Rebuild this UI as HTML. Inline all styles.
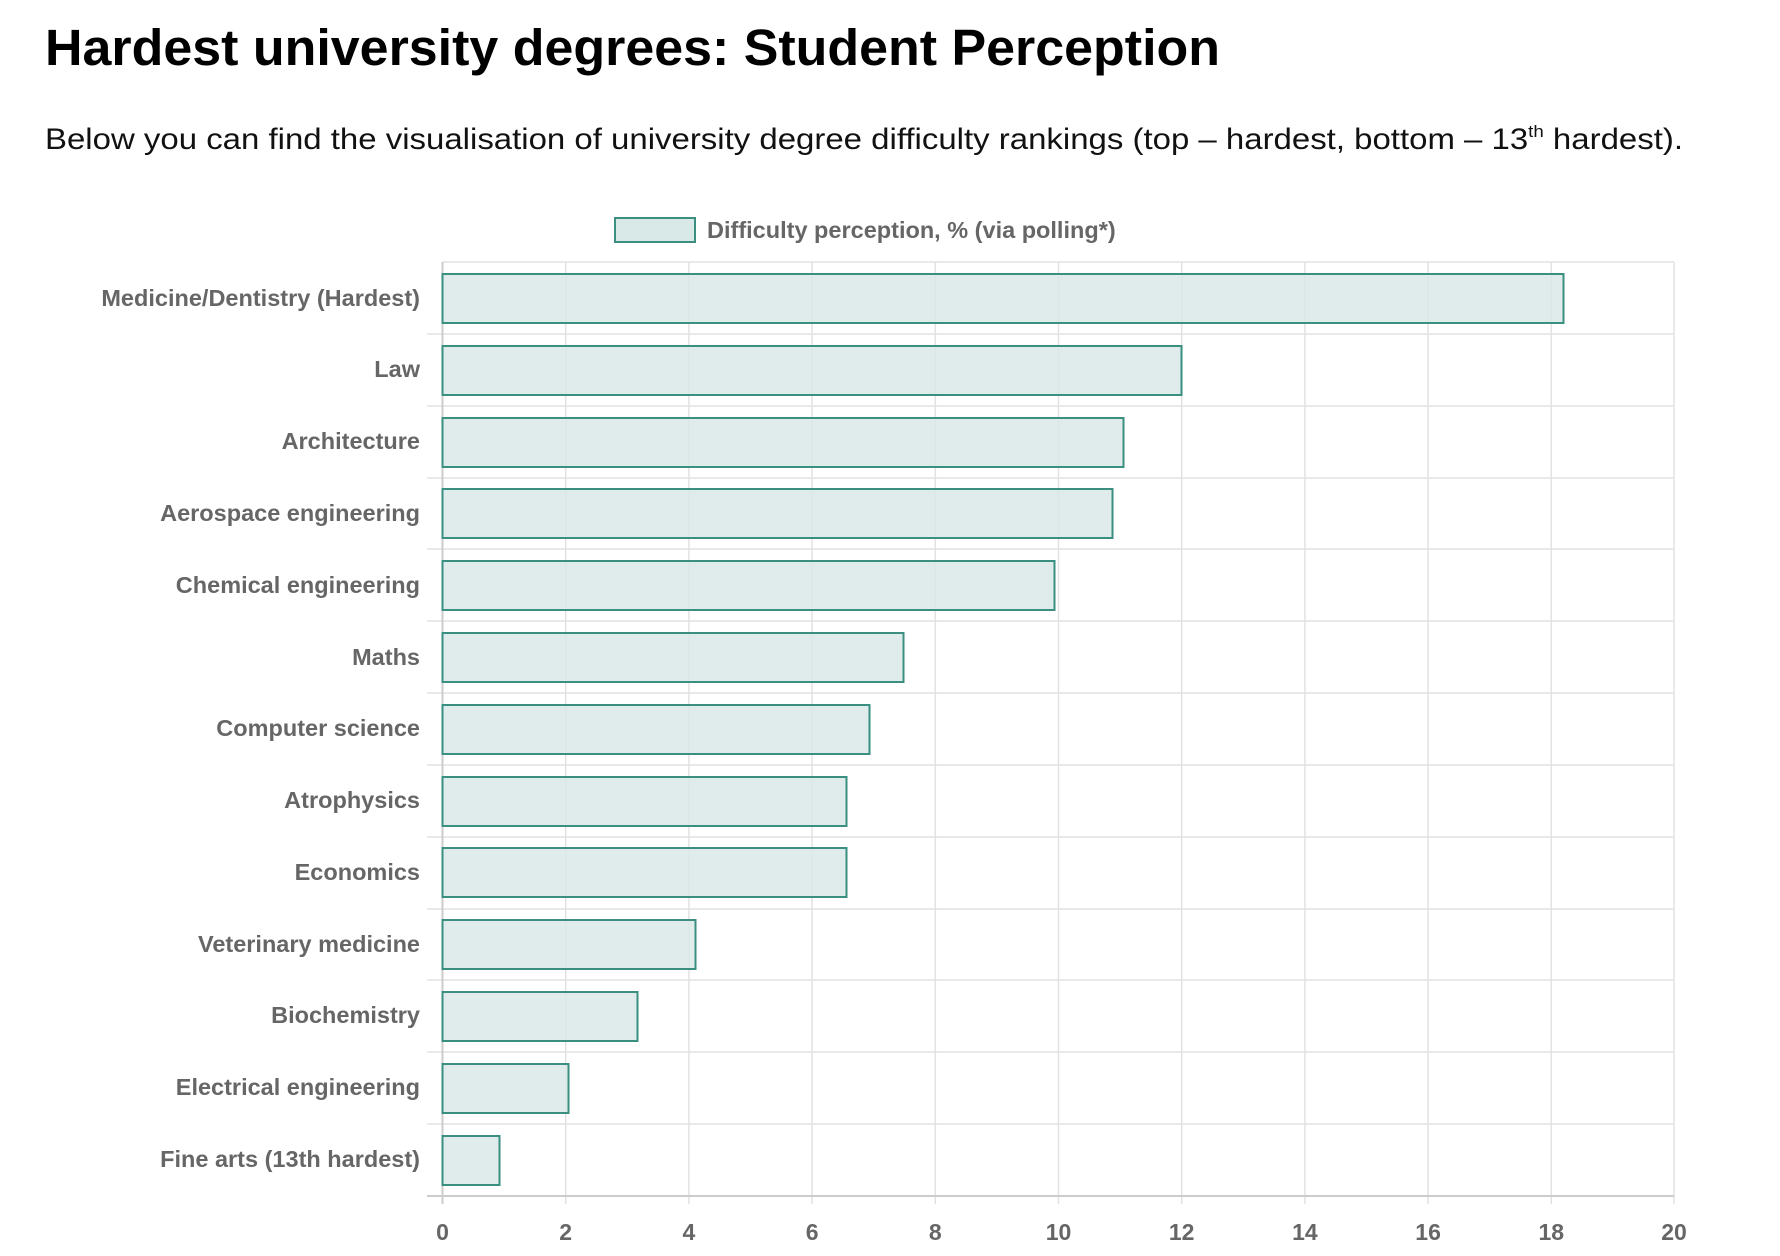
<!DOCTYPE html>
<html><head><meta charset="utf-8"><style>
html,body{margin:0;padding:0;background:#fff;width:1780px;height:1256px;overflow:hidden}
</style></head><body>
<svg width="1780" height="1256" xmlns="http://www.w3.org/2000/svg" font-family="Liberation Sans, sans-serif">
<text x="45" y="65" font-size="51" font-weight="bold" fill="#000" textLength="1175" lengthAdjust="spacingAndGlyphs">Hardest university degrees: Student Perception</text>
<text x="45" y="149" font-size="30" fill="#111" textLength="1638" lengthAdjust="spacingAndGlyphs">Below you can find the visualisation of university degree difficulty rankings (top – hardest, bottom – 13<tspan font-size="17" dy="-12">th</tspan><tspan dy="12"> hardest).</tspan></text>
<rect x="615" y="218" width="80" height="24" fill="#d9e9e7" stroke="#3a8f80" stroke-width="2"/>
<text x="707" y="238" font-size="23.5" font-weight="bold" fill="#666">Difficulty perception, % (via polling*)</text>
<g stroke="#e2e2e2" stroke-width="1.5">
<line x1="442.5" y1="262" x2="1674" y2="262"/>
<line x1="427" y1="334" x2="1674" y2="334"/>
<line x1="427" y1="406" x2="1674" y2="406"/>
<line x1="427" y1="478" x2="1674" y2="478"/>
<line x1="427" y1="549" x2="1674" y2="549"/>
<line x1="427" y1="621" x2="1674" y2="621"/>
<line x1="427" y1="693" x2="1674" y2="693"/>
<line x1="427" y1="765" x2="1674" y2="765"/>
<line x1="427" y1="837" x2="1674" y2="837"/>
<line x1="427" y1="909" x2="1674" y2="909"/>
<line x1="427" y1="980" x2="1674" y2="980"/>
<line x1="427" y1="1052" x2="1674" y2="1052"/>
<line x1="427" y1="1124" x2="1674" y2="1124"/>
<line x1="565.7" y1="262" x2="565.7" y2="1204"/>
<line x1="688.9" y1="262" x2="688.9" y2="1204"/>
<line x1="812.1" y1="262" x2="812.1" y2="1204"/>
<line x1="935.3" y1="262" x2="935.3" y2="1204"/>
<line x1="1058.5" y1="262" x2="1058.5" y2="1204"/>
<line x1="1181.7" y1="262" x2="1181.7" y2="1204"/>
<line x1="1304.9" y1="262" x2="1304.9" y2="1204"/>
<line x1="1428.1" y1="262" x2="1428.1" y2="1204"/>
<line x1="1551.3" y1="262" x2="1551.3" y2="1204"/>
<line x1="1674" y1="262" x2="1674" y2="1204"/>
</g>
<line x1="427" y1="1196" x2="1674" y2="1196" stroke="#ccc" stroke-width="2"/>
<line x1="442.5" y1="262" x2="442.5" y2="1204" stroke="#ccc" stroke-width="2"/>
<g fill="#d9e9e7" fill-opacity="0.85" stroke="#3a8f80" stroke-width="2">
<rect x="442.5" y="274" width="1121" height="49"/>
<rect x="442.5" y="346" width="739" height="49"/>
<rect x="442.5" y="418" width="681" height="49"/>
<rect x="442.5" y="489" width="670" height="49"/>
<rect x="442.5" y="561" width="612" height="49"/>
<rect x="442.5" y="633" width="461" height="49"/>
<rect x="442.5" y="705" width="427" height="49"/>
<rect x="442.5" y="777" width="404" height="49"/>
<rect x="442.5" y="848" width="404" height="49"/>
<rect x="442.5" y="920" width="253" height="49"/>
<rect x="442.5" y="992" width="195" height="49"/>
<rect x="442.5" y="1064" width="126" height="49"/>
<rect x="442.5" y="1136" width="57" height="49"/>
</g>
<g font-size="23.5" font-weight="bold" fill="#666" text-anchor="end">
<text x="420" y="306">Medicine/Dentistry (Hardest)</text>
<text x="420" y="377">Law</text>
<text x="420" y="449">Architecture</text>
<text x="420" y="521">Aerospace engineering</text>
<text x="420" y="593">Chemical engineering</text>
<text x="420" y="665">Maths</text>
<text x="420" y="736">Computer science</text>
<text x="420" y="808">Atrophysics</text>
<text x="420" y="880">Economics</text>
<text x="420" y="952">Veterinary medicine</text>
<text x="420" y="1023">Biochemistry</text>
<text x="420" y="1095">Electrical engineering</text>
<text x="420" y="1167">Fine arts (13th hardest)</text>
</g>
<g font-size="23" font-weight="bold" fill="#666" text-anchor="middle">
<text x="442.5" y="1240">0</text>
<text x="565.7" y="1240">2</text>
<text x="688.9" y="1240">4</text>
<text x="812.1" y="1240">6</text>
<text x="935.3" y="1240">8</text>
<text x="1058.5" y="1240">10</text>
<text x="1181.7" y="1240">12</text>
<text x="1304.9" y="1240">14</text>
<text x="1428.1" y="1240">16</text>
<text x="1551.3" y="1240">18</text>
<text x="1674" y="1240">20</text>
</g>
</svg>
</body></html>
